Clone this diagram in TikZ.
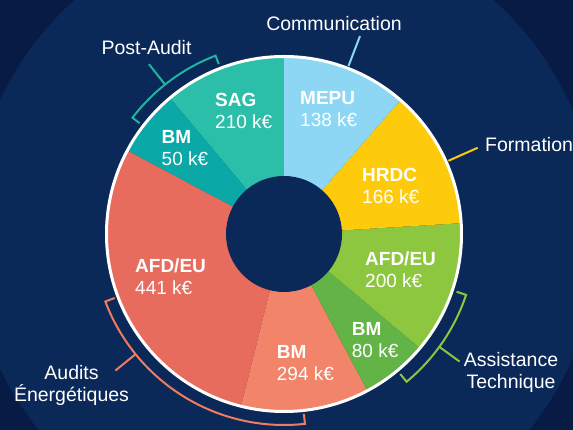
\documentclass[tikz,border=0pt]{standalone}
\usepackage{fontspec}
\setmainfont{Liberation Sans}
\usepackage{tikz}
\usetikzlibrary{positioning}
\usepackage{xcolor}
\definecolor{NavyDark}{HTML}{071B45}
\definecolor{NavyLight}{HTML}{0B2958}
\definecolor{SagTeal}{HTML}{2BBFA9}
\definecolor{BmTeal}{HTML}{0AA9A7}
\definecolor{AuditRed}{HTML}{E86C5E}
\definecolor{AuditSalmon}{HTML}{F18469}
\definecolor{AssistGreen}{HTML}{8DC63F}
\definecolor{AssistDark}{HTML}{63B446}
\definecolor{FormYellow}{HTML}{FDCB0B}
\definecolor{ComBlue}{HTML}{8DD7F5}
\definecolor{BracketTeal}{HTML}{21B3A2}
\definecolor{BracketOrange}{HTML}{F07B5F}

\begin{document}
\begin{tikzpicture}[x=1pt, y=1pt,
    seglabel/.style={font=\fontsize{19}{22}\selectfont, white, align=left, anchor=north west, inner sep=0pt},
    outlabel/.style={font=\fontsize{19.5}{22.5}\selectfont, white, align=center, inner sep=0pt},
    bracket/.style={line width=2pt}]
                % Background
                \fill[NavyDark] (0,0) rectangle (573,430);
                \useasboundingbox (0,0) rectangle (573,430);
                \coordinate (c) at (284,196);
                \fill[NavyLight] (c) circle (314);

                % Ring segments
                \begin{scope}[shift={(c)}]
                \fill[SagTeal] (0,0) -- (90:177) arc[start angle=90, end angle=130, radius=177] -- cycle;
                \fill[BmTeal] (0,0) -- (130:177) arc[start angle=130, end angle=152, radius=177] -- cycle;
                \fill[AuditRed] (0,0) -- (152:177) arc[start angle=152, end angle=256, radius=177] -- cycle;
                \fill[AuditSalmon] (0,0) -- (256:177) arc[start angle=256, end angle=298, radius=177] -- cycle;
                \fill[AssistDark] (0,0) -- (298:177) arc[start angle=298, end angle=320, radius=177] -- cycle;
                \fill[AssistGreen] (0,0) -- (320:177) arc[start angle=320, end angle=363.5, radius=177] -- cycle;
                \fill[FormYellow] (0,0) -- (3.5:177) arc[start angle=3.5, end angle=49, radius=177] -- cycle;
                \fill[ComBlue] (0,0) -- (49:177) arc[start angle=49, end angle=90, radius=177] -- cycle;
                \end{scope}
                \fill[NavyLight] (c) circle (58);
                \draw[white, line width=3pt] (c) circle (177.5);

                % Brackets and leaders
                \begin{scope}[shift={(c)}]
                \draw[BracketTeal, bracket] (111:182) -- (111:191) arc[start angle=111, end angle=142.5, radius=191] -- (142.5:182);
                \coordinate (pa-in) at (128.5:191);
                \coordinate (pa-out) at (128.5:217);
                \coordinate (com-in) at (69:180);
                \coordinate (com-out) at (69:212);
                \coordinate (for-in) at (24:180);
                \coordinate (for-out) at (24:212);
                \draw[AssistGreen, bracket] (-18.5:182) -- (-18.5:192) arc[start angle=-18.5, end angle=-50.3, radius=192] -- (-50.3:182);
                \coordinate (at-in) at (-36:192);
                \coordinate (at-out) at (-36:217);
                \draw[BracketOrange, bracket] (200.7:181) -- (200.7:191) arc[start angle=200.7, end angle=276.3, radius=191] -- (276.3:181);
                \coordinate (ae-in) at (219:191);
                \coordinate (ae-out) at (219:217);
                \end{scope}
                \draw[BracketTeal, bracket] (pa-in) -- (pa-out);
                \draw[ComBlue, bracket] (com-in) -- (com-out);
                \draw[FormYellow, bracket] (for-in) -- (for-out);
                \draw[AssistGreen, bracket] (at-in) -- (at-out);
                \draw[BracketOrange, bracket] (ae-in) -- (ae-out);

                % Segment labels
                \node[seglabel] (sag) at (215,337.3) {\textbf{SAG}\\210 k€};
                \node[seglabel] (bm-pa) at (161.5,299.5) {\textbf{BM}\\50 k€};
                \node[seglabel] (mepu) at (300,338.3) {\textbf{MEPU}\\138 k€};
                \node[seglabel] (hrdc) at (362,262) {\textbf{HRDC}\\166 k€};
                \node[seglabel] (afd-at) at (365,178.3) {\textbf{AFD/EU}\\200 k€};
                \node[seglabel] (bm-at) at (351.7,107.3) {\textbf{BM}\\80 k€};
                \node[seglabel] (bm-ae) at (276.7,85) {\textbf{BM}\\294 k€};
                \node[seglabel] (afd-ae) at (135,171.7) {\textbf{AFD/EU}\\441 k€};

                % Group labels
                \node[outlabel, anchor=base] (communication) at (334,399) {Communication};
                \node[outlabel, anchor=base] (postaudit) at (146.5,375.7) {Post-Audit};
                \node[outlabel, anchor=base west] (formation) at (485,278.3) {Formation};
                \node[outlabel, anchor=north] (assistance) at (511,78) {Assistance\\Technique};
                \node[outlabel, anchor=north] (audits) at (71.5,65) {Audits\\Énergétiques};
            \end{tikzpicture}
\end{document}
